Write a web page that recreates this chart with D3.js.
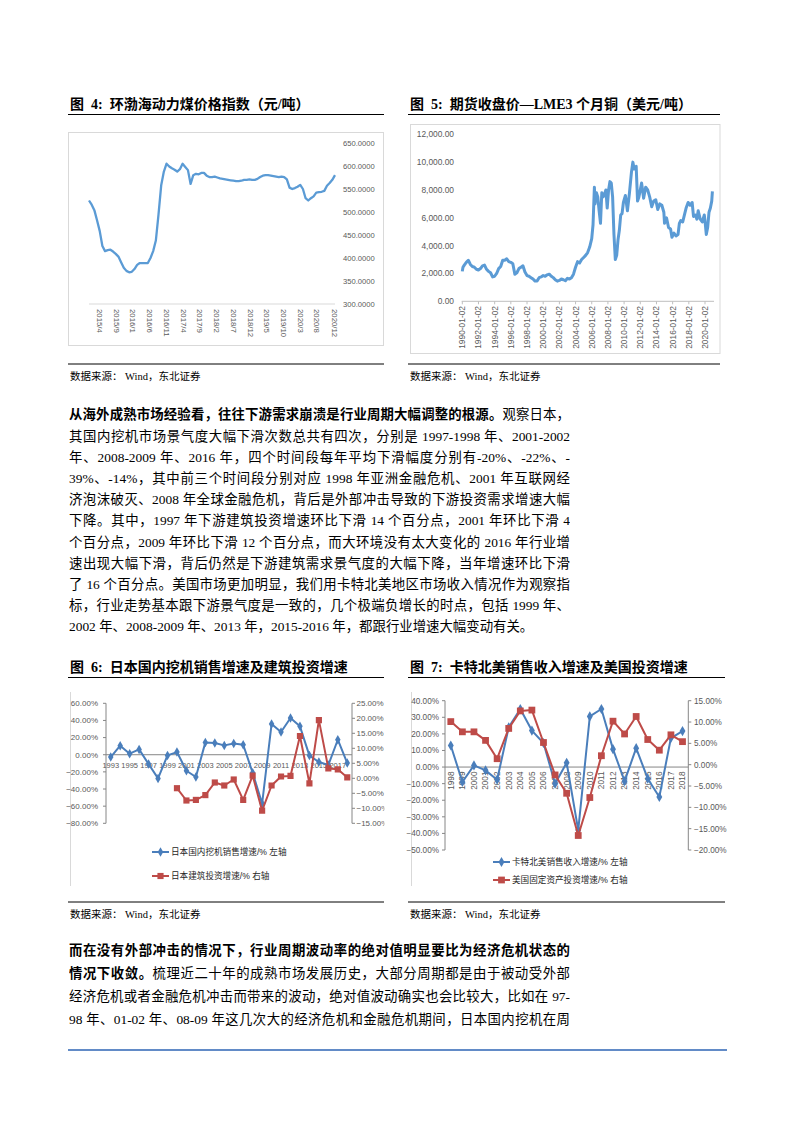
<!DOCTYPE html>
<html>
<head>
<meta charset="utf-8">
<script src="https://cdn.jsdelivr.net/npm/d3@7/dist/d3.min.js"></script>
<style>
  body { margin: 0; background: #fff; }
  #page { position: relative; width: 793px; height: 1122px; overflow: hidden; background: #fff; }
  #page svg { position: absolute; left: 0; top: 0; }
  .para { position: absolute; left: 69px; width: 501px; font-family: "Liberation Serif", "Noto Sans CJK SC", serif; font-size: 13.4px; color: #000; }
  .para div { height: 21.2px; line-height: 21.2px; overflow: hidden; text-align: justify; text-align-last: justify; }
  #p2 div { height: 23px; line-height: 23px; }
  .para div.last { text-align-last: left; }
  .para b { font-family: "Liberation Serif", "Noto Sans CJK SC", sans-serif; font-weight: 700; }
</style>
</head>
<body>
<div id="page">
  <div class="para" id="p1" style="top:404.4px">
    <div><b>从海外成熟市场经验看，往往下游需求崩溃是行业周期大幅调整的根源。</b>观察日本，</div>
    <div>其国内挖机市场景气度大幅下滑次数总共有四次，分别是 1997-1998 年、2001-2002</div>
    <div>年、2008-2009 年、2016 年，四个时间段每年平均下滑幅度分别有-20%、-22%、-</div>
    <div>39%、-14%，其中前三个时间段分别对应 1998 年亚洲金融危机、2001 年互联网经</div>
    <div>济泡沫破灭、2008 年全球金融危机，背后是外部冲击导致的下游投资需求增速大幅</div>
    <div>下降。其中，1997 年下游建筑投资增速环比下滑 14 个百分点，2001 年环比下滑 4</div>
    <div>个百分点，2009 年环比下滑 12 个百分点，而大环境没有太大变化的 2016 年行业增</div>
    <div>速出现大幅下滑，背后仍然是下游建筑需求景气度的大幅下降，当年增速环比下滑</div>
    <div>了 16 个百分点。美国市场更加明显，我们用卡特北美地区市场收入情况作为观察指</div>
    <div>标，行业走势基本跟下游景气度是一致的，几个极端负增长的时点，包括 1999 年、</div>
    <div class="last">2002 年、2008-2009 年、2013 年，2015-2016 年，都跟行业增速大幅变动有关。</div>
  </div>
  <div class="para" id="p2" style="top:938.5px">
    <div><b>而在没有外部冲击的情况下，行业周期波动率的绝对值明显要比为经济危机状态的</b></div>
    <div><b>情况下收敛。</b>梳理近二十年的成熟市场发展历史，大部分周期都是由于被动受外部</div>
    <div>经济危机或者金融危机冲击而带来的波动，绝对值波动确实也会比较大，比如在 97-</div>
    <div>98 年、01-02 年、08-09 年这几次大的经济危机和金融危机期间，日本国内挖机在周</div>
  </div>
</div>
<script>
// ---- data ----
var coalTickVals = [300, 350, 400, 450, 500, 550, 600, 650];
var coalLabels = ["2015/4", "2015/9", "2016/1", "2016/6", "2016/11", "2017/4", "2017/9", "2018/2",
  "2018/7", "2018/12", "2019/5", "2019/10", "2020/3", "2020/8", "2020/12"];
var coalLabelPos = [4, 10.3, 16.5, 22.8, 29, 35.3, 41.5, 47.8, 54, 60.3, 66.5, 72.8, 79, 85.3, 92];
var coalValues = [525, 516, 504, 482, 459, 426, 415, 417, 418, 414, 409, 403, 391, 379, 372, 369,
  370, 376, 385, 389, 389, 389, 389, 400, 415, 438, 495, 558, 588, 605, 599, 595, 592, 588, 593,
  605, 598, 591, 561, 580, 583, 582, 585, 585, 579, 576, 576, 577, 575, 573, 572, 571, 570, 569,
  568, 567, 567, 568, 570, 570, 571, 570, 570, 572, 576, 579, 580, 580, 579, 578, 577, 576, 577,
  576, 571, 553, 550, 552, 555, 559, 550, 530, 525, 530, 534, 542, 543, 544, 546, 557, 563, 570, 580];

var copperTickVals = [0, 2000, 4000, 6000, 8000, 10000, 12000];
var copperLabels = ["1990-01-02", "1992-01-02", "1994-01-02", "1996-01-02", "1998-01-02", "2000-01-02",
  "2002-01-02", "2004-01-02", "2006-01-02", "2008-01-02", "2010-01-02", "2012-01-02", "2014-01-02",
  "2016-01-02", "2018-01-02", "2020-01-02"];
var copperDates = ["1990-01", "1990-02", "1990-04", "1990-07", "1990-10", "1991-01", "1991-04", "1991-07", "1991-10",
  "1992-01", "1992-04", "1992-07", "1992-10", "1993-01", "1993-04", "1993-07", "1993-10",
  "1994-01", "1994-04", "1994-07", "1994-10", "1995-01", "1995-04", "1995-07", "1995-10",
  "1996-01", "1996-04", "1996-07", "1996-10", "1997-01", "1997-04", "1997-07", "1997-10",
  "1998-01", "1998-04", "1998-07", "1998-10", "1999-01", "1999-04", "1999-07", "1999-10",
  "2000-01", "2000-04", "2000-07", "2000-10", "2001-01", "2001-04", "2001-07", "2001-10",
  "2002-01", "2002-04", "2002-07", "2002-10", "2003-01", "2003-04", "2003-07", "2003-10",
  "2004-01", "2004-04", "2004-07", "2004-10", "2005-01", "2005-04", "2005-07", "2005-10",
  "2006-01", "2006-03", "2006-05", "2006-06", "2006-08", "2006-10", "2006-12",
  "2007-02", "2007-04", "2007-06", "2007-08", "2007-10", "2007-12",
  "2008-02", "2008-04", "2008-06", "2008-08", "2008-10", "2008-12",
  "2009-02", "2009-04", "2009-06", "2009-08", "2009-10", "2009-12",
  "2010-03", "2010-06", "2010-09", "2010-12", "2011-02", "2011-04", "2011-07", "2011-09", "2011-11",
  "2012-01", "2012-03", "2012-06", "2012-09", "2012-12", "2013-03", "2013-06", "2013-09", "2013-12",
  "2014-03", "2014-06", "2014-09", "2014-12", "2015-01", "2015-04", "2015-07", "2015-10", "2015-12",
  "2016-03", "2016-06", "2016-09", "2016-11", "2017-01", "2017-04", "2017-07", "2017-09", "2017-12",
  "2018-03", "2018-06", "2018-08", "2018-11", "2019-01", "2019-03", "2019-06", "2019-09", "2019-12",
  "2020-01", "2020-03", "2020-05", "2020-07", "2020-09", "2020-11", "2020-12"];
var copperValues = [2150, 2450, 2600, 2800, 2950, 2650, 2500, 2450, 2300,
  2250, 2350, 2550, 2600, 2300, 2150, 2050, 1750,
  1800, 2000, 2350, 2500, 2950, 2950, 3050, 2850,
  2800, 2700, 1950, 2050, 2350, 2450, 2550, 2100,
  1850, 1800, 1700, 1600, 1450, 1450, 1700, 1750,
  1850, 1800, 1900, 1950, 1800, 1700, 1550, 1450,
  1500, 1600, 1550, 1480, 1650, 1600, 1700, 1950,
  2450, 2850, 2750, 3000, 3150, 3300, 3500, 3900,
  4500, 5500, 8200, 7000, 7800, 7500, 6500,
  5600, 7800, 7500, 7700, 8000, 6700,
  8000, 8600, 8500, 7500, 4800, 3000,
  3300, 4400, 5100, 6200, 6300, 7100,
  7600, 6500, 7800, 9300, 10000, 9500, 9700, 7200, 7500,
  8000, 8500, 7400, 8200, 8000, 7500, 6800, 7200, 7300,
  6600, 7000, 6900, 6400, 5600, 6000, 5300, 5200, 4600,
  4900, 4700, 4800, 5600, 5800, 5700, 6300, 6700, 7100,
  6900, 7100, 6100, 6200, 5900, 6500, 5900, 5700, 6200,
  5800, 4800, 5300, 6400, 6700, 7200, 7900];

var jpYears = [1993, 1994, 1995, 1996, 1997, 1998, 1999, 2000, 2001, 2002, 2003, 2004, 2005,
  2006, 2007, 2008, 2009, 2010, 2011, 2012, 2013, 2014, 2015, 2016, 2017, 2018];
var jpLabelYears = [1993, 1995, 1997, 1999, 2001, 2003, 2005, 2007, 2009, 2011, 2013, 2015, 2017];
var jpExcavator = [-2.7, 10.5, 1.2, 6.2, -10.9, -27.6, -0.8, 3.1, -18.7, -26, 14.4, 13.6, 10.9,
  13.2, 11.7, -21, -57, 35.8, 26.5, 42.8, 33.1, -1, -8.5, -12, 17.5, -9.7];
var jpConstruction = [null, null, null, null, null, null, null, -3.3, -7.4, -7.2, -5.6, -1.4, -2.4,
  -0.4, -7.2, 0.9, -10.8, -2.4, 0.6, 0.8, 14.1, -1.7, 19.4, 3.3, 3.0, 0.3];
var jpLeftTicks = [60, 40, 20, 0, -20, -40, -60, -80];
var jpRightTicks = [25, 20, 15, 10, 5, 0, -5, -10, -15];

var usYears = [1998, 1999, 2000, 2001, 2002, 2003, 2004, 2005, 2006, 2007, 2008, 2009, 2010,
  2011, 2012, 2013, 2014, 2015, 2016, 2017, 2018];
var catSales = [13, -9, 1, -2, -7.6, 24, 35, 22, 14.5, -10, 2.6, -38, 30.5, 35, 10.8, -8.5, 11.4,
  -7, -18, 17.5, 21.7];
var usInvest = [10.1, 7.7, 7.7, 5.7, 1.4, 8.5, 12.6, 12.8, 5.2, -2.4, -6.7, -16.6, -7.7, 2.1, 10.2,
  7.2, 11.3, 5.9, 3.4, 7.0, 5.4];
var usLeftTicks = [40, 30, 20, 10, 0, -10, -20, -30, -40, -50];
var usRightTicks = [15, 10, 5, 0, -5, -10, -15, -20];

// ---- drawing ----
var serifCJK = '"Liberation Serif","Noto Sans CJK SC",serif';
var axisFont = '"Liberation Sans","Noto Sans CJK SC",sans-serif';
var BLUE = "#5B9BD5", DBLUE = "#4A7EBB", RED = "#BE4B48";
var pct = function (v) { return d3.format(".2f")(v) + "%"; };

var svg = d3.select("#page").insert("svg", ":first-child")
  .attr("width", 793).attr("height", 1122);

function hline(x1, x2, y, color, w) {
  svg.append("line").attr("x1", x1).attr("x2", x2).attr("y1", y).attr("y2", y)
    .attr("stroke", color).attr("stroke-width", w);
}

function figTitle(x, y, num, txt, x2) {
  var t = svg.append("text").attr("x", x).attr("y", y).attr("dy", "0.36em")
    .attr("font-family", serifCJK).attr("font-weight", 700).attr("font-size", 14);
  t.append("tspan").text("图");
  t.append("tspan").attr("dx", 7).text(num + ":");
  t.append("tspan").attr("dx", 7).text(txt);
  hline(x - 2, x2, y + 10.5, "#000", 1);
}

function source(x, y, x2) {
  hline(x - 2, x2, y - 12, "#000", 1);
  svg.append("text").attr("x", x).attr("y", y).attr("dy", "0.36em")
    .attr("font-family", serifCJK).attr("font-size", 10.5).text("数据来源： Wind，东北证券");
}

function label(g, x, y, txt, anchor, size) {
  return g.append("text").attr("x", x).attr("y", y).attr("dy", "0.35em")
    .attr("text-anchor", anchor).attr("font-family", axisFont)
    .attr("font-size", size).attr("fill", "#595959").text(txt);
}

// figure 4: coal index
figTitle(70, 104, "4", "环渤海动力煤价格指数（元/吨）", 384);
source(70, 376, 384);
var g4 = svg.append("g");
g4.append("rect").attr("x", 68.5).attr("y", 132.5).attr("width", 315).attr("height", 213)
  .attr("fill", "#fff").attr("stroke", "#d9d9d9");
var c4x = d3.scaleLinear().domain([0, coalValues.length - 1]).range([89, 335]);
var c4y = d3.scaleLinear().domain([300, 650]).range([304, 143]);
g4.append("line").attr("x1", 89).attr("x2", 335).attr("y1", c4y(300)).attr("y2", c4y(300))
  .attr("stroke", "#d9d9d9");
coalTickVals.forEach(function (v) {
  label(g4, 343, c4y(v), d3.format(".4f")(v), "start", 7.6);
});
coalLabels.forEach(function (s, i) {
  g4.append("text").attr("transform", "translate(" + c4x(coalLabelPos[i]) + ",309) rotate(90)")
    .attr("dy", "0.35em").attr("font-family", axisFont).attr("font-size", 7.8)
    .attr("fill", "#595959").text(s);
});
g4.append("path").datum(coalValues)
  .attr("d", d3.line().x(function (d, i) { return c4x(i); }).y(function (d) { return c4y(d); }))
  .attr("fill", "none").attr("stroke", BLUE).attr("stroke-width", 2.3).attr("stroke-linejoin", "round");

// figure 5: LME copper
figTitle(410, 104, "5", "期货收盘价—LME3 个月铜（美元/吨）", 720);
source(410, 376, 720);
var g5 = svg.append("g");
g5.append("rect").attr("x", 410.5).attr("y", 124.5).attr("width", 309.5).attr("height", 229)
  .attr("fill", "#fff").attr("stroke", "#d9d9d9");
var parseM = d3.timeParse("%Y-%m"), parseD = d3.timeParse("%Y-%m-%d");
var c5x = d3.scaleTime().domain([parseD("1990-01-02"), parseD("2020-01-02")]).range([462.3, 705]);
var c5y = d3.scaleLinear().domain([0, 12000]).range([301.3, 134.3]);
copperTickVals.forEach(function (v) {
  label(g5, 454, c5y(v), d3.format(",.2f")(v), "end", 8.4);
});
g5.append("line").attr("x1", 461.7).attr("x2", 714).attr("y1", c5y(0)).attr("y2", c5y(0))
  .attr("stroke", "#bfbfbf");
copperLabels.forEach(function (s) {
  var x = c5x(parseD(s));
  g5.append("line").attr("x1", x).attr("x2", x).attr("y1", c5y(0)).attr("y2", c5y(0) + 3)
    .attr("stroke", "#bfbfbf");
  g5.append("text").attr("transform", "translate(" + x + ",306) rotate(-90)")
    .attr("dy", "0.35em").attr("text-anchor", "end").attr("font-family", axisFont)
    .attr("font-size", 8.4).attr("fill", "#595959").text(s);
});
g5.append("path").datum(copperValues)
  .attr("d", d3.line().x(function (d, i) { return c5x(parseM(copperDates[i])); })
    .y(function (d) { return c5y(d); }))
  .attr("fill", "none").attr("stroke", BLUE).attr("stroke-width", 3).attr("stroke-linejoin", "round");

// shared: dual-axis line chart with markers
function markers(g, data, xs, ys, cats, shape, size, color) {
  g.selectAll(null).data(data.map(function (v, i) { return [cats[i], v]; })
      .filter(function (d) { return d[1] !== null; }))
    .enter().append("path")
    .attr("transform", function (d) { return "translate(" + xs(d[0]) + "," + ys(d[1]) + ")"; })
    .attr("d", d3.symbol().type(shape).size(size)())
    .attr("fill", color);
}
function seriesLine(g, data, xs, ys, cats, color) {
  g.append("path").datum(data)
    .attr("d", d3.line().defined(function (d) { return d !== null; })
      .x(function (d, i) { return xs(cats[i]); }).y(function (d) { return ys(d); }))
    .attr("fill", "none").attr("stroke", color).attr("stroke-width", 2).attr("stroke-linejoin", "round");
}
function legend(g, x, y, color, shape, size, txt) {
  g.append("line").attr("x1", x).attr("x2", x + 17).attr("y1", y).attr("y2", y)
    .attr("stroke", color).attr("stroke-width", 2);
  g.append("path").attr("transform", "translate(" + (x + 8.5) + "," + y + ")")
    .attr("d", d3.symbol().type(shape).size(size)()).attr("fill", color);
  g.append("text").attr("x", x + 19).attr("y", y).attr("dy", "0.35em")
    .attr("font-family", axisFont).attr("font-size", 8.6).attr("fill", "#262626").text(txt);
}

// figure 6: Japan
figTitle(70, 667, "6", "日本国内挖机销售增速及建筑投资增速", 384);
source(70, 914, 384);
svg.append("clipPath").attr("id", "clip6").append("rect")
  .attr("x", 60).attr("y", 680).attr("width", 324.5).attr("height", 215);
var g6 = svg.append("g").attr("clip-path", "url(#clip6)");
g6.append("line").attr("x1", 70.5).attr("x2", 70.5).attr("y1", 692).attr("y2", 886).attr("stroke", "#d9d9d9");
var c6x = d3.scalePoint().domain(jpYears).range([106, 352]).padding(0.5);
var c6yl = d3.scaleLinear().domain([-80, 60]).range([823.3, 703.3]);
var c6yr = d3.scaleLinear().domain([-15, 25]).range([823.3, 703.3]);
g6.append("line").attr("x1", 106).attr("x2", 106).attr("y1", 703.3).attr("y2", 823.3).attr("stroke", "#868686");
g6.append("line").attr("x1", 352).attr("x2", 352).attr("y1", 703.3).attr("y2", 823.3).attr("stroke", "#868686");
jpLeftTicks.forEach(function (v) {
  g6.append("line").attr("x1", 103).attr("x2", 106).attr("y1", c6yl(v)).attr("y2", c6yl(v)).attr("stroke", "#868686");
  label(g6, 98, c6yl(v), pct(v), "end", 8);
});
jpRightTicks.forEach(function (v) {
  g6.append("line").attr("x1", 352).attr("x2", 355).attr("y1", c6yr(v)).attr("y2", c6yr(v)).attr("stroke", "#868686");
  label(g6, 356.5, c6yr(v), pct(v), "start", 8);
});
g6.append("line").attr("x1", 106).attr("x2", 352).attr("y1", c6yl(0)).attr("y2", c6yl(0)).attr("stroke", "#868686");
jpLabelYears.forEach(function (y) {
  label(g6, c6x(y), c6yl(0) + 11, String(y), "middle", 7.5);
});
seriesLine(g6, jpExcavator, c6x, c6yl, jpYears, DBLUE);
markers(g6, jpExcavator, c6x, c6yl, jpYears, d3.symbolDiamond, 26, DBLUE);
seriesLine(g6, jpConstruction, c6x, c6yr, jpYears, RED);
markers(g6, jpConstruction, c6x, c6yr, jpYears, d3.symbolSquare, 38, RED);
legend(g6, 152, 852, DBLUE, d3.symbolDiamond, 26, "日本国内挖机销售增速/% 左轴");
legend(g6, 152, 876, RED, d3.symbolSquare, 38, "日本建筑投资增速/% 右轴");

// figure 7: Caterpillar NA vs US investment
figTitle(410, 667, "7", "卡特北美销售收入增速及美国投资增速", 725);
source(410, 914, 725);
var g7 = svg.append("g");
g7.append("line").attr("x1", 411.5).attr("x2", 411.5).attr("y1", 692).attr("y2", 886).attr("stroke", "#d9d9d9");
var c7x = d3.scalePoint().domain(usYears).range([445, 688.3]).padding(0.5);
var c7yl = d3.scaleLinear().domain([-50, 40]).range([850, 700.7]);
var c7yr = d3.scaleLinear().domain([-20, 15]).range([850, 700.7]);
g7.append("line").attr("x1", 445).attr("x2", 445).attr("y1", 700.7).attr("y2", 850).attr("stroke", "#868686");
g7.append("line").attr("x1", 688.3).attr("x2", 688.3).attr("y1", 700.7).attr("y2", 850).attr("stroke", "#868686");
usLeftTicks.forEach(function (v) {
  g7.append("line").attr("x1", 442).attr("x2", 445).attr("y1", c7yl(v)).attr("y2", c7yl(v)).attr("stroke", "#868686");
  label(g7, 439, c7yl(v), pct(v), "end", 8.2);
});
usRightTicks.forEach(function (v) {
  g7.append("line").attr("x1", 688.3).attr("x2", 691.3).attr("y1", c7yr(v)).attr("y2", c7yr(v)).attr("stroke", "#868686");
  label(g7, 694, c7yr(v), pct(v), "start", 8.2);
});
g7.append("line").attr("x1", 445).attr("x2", 688.3).attr("y1", c7yl(0)).attr("y2", c7yl(0)).attr("stroke", "#868686");
usYears.forEach(function (y) {
  g7.append("text").attr("transform", "translate(" + c7x(y) + "," + (c7yl(0) + 4.5) + ") rotate(-90)")
    .attr("dy", "0.35em").attr("text-anchor", "end").attr("font-family", axisFont)
    .attr("font-size", 8.2).attr("fill", "#595959").text(String(y));
});
seriesLine(g7, catSales, c7x, c7yl, usYears, DBLUE);
markers(g7, catSales, c7x, c7yl, usYears, d3.symbolDiamond, 30, DBLUE);
seriesLine(g7, usInvest, c7x, c7yr, usYears, RED);
markers(g7, usInvest, c7x, c7yr, usYears, d3.symbolSquare, 46, RED);
legend(g7, 493, 862, DBLUE, d3.symbolDiamond, 30, "卡特北美销售收入增速/% 左轴");
legend(g7, 493, 880, RED, d3.symbolSquare, 46, "美国固定资产投资增速/% 右轴");

// page footer rule
hline(68, 727, 1050, "#2E64B4", 1.5);
</script>
</body>
</html>
